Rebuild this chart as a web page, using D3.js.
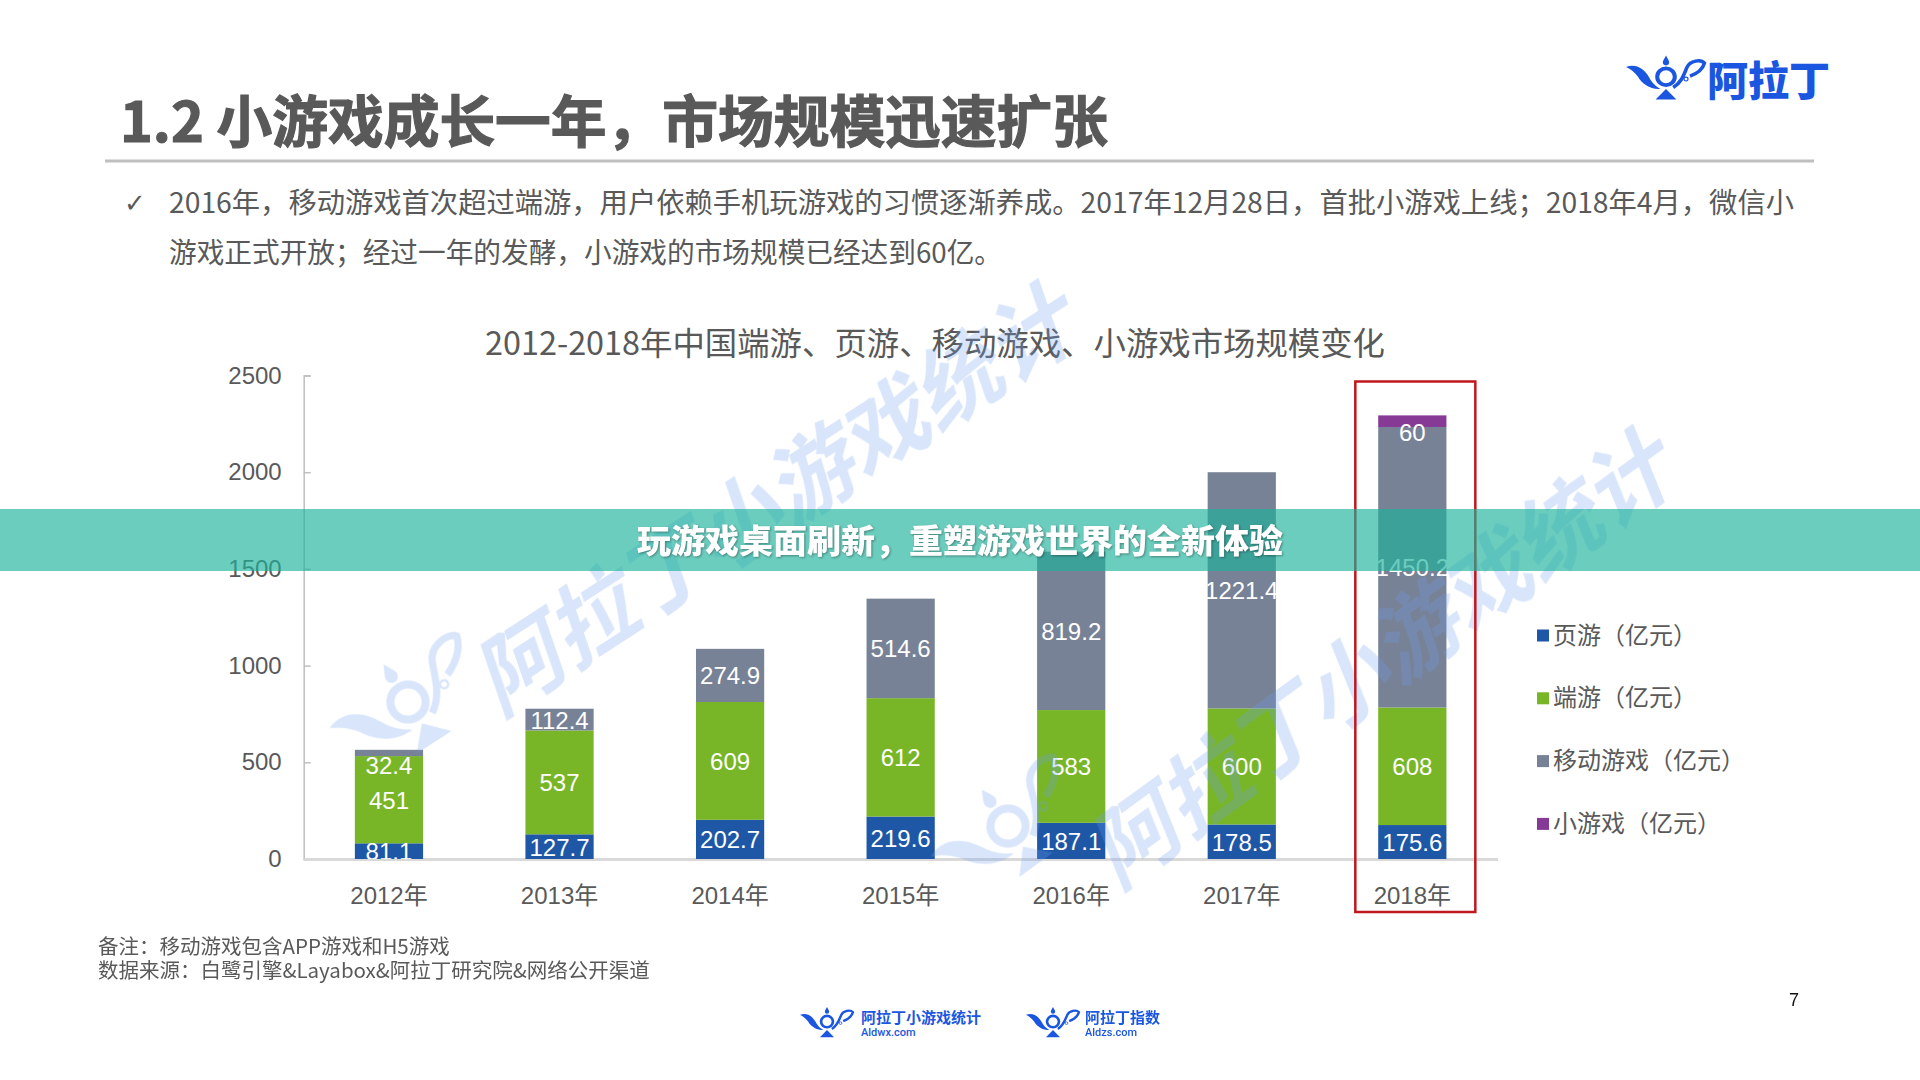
<!DOCTYPE html>
<html>
<head>
<meta charset="utf-8">
<script src="https://cdn.jsdelivr.net/npm/d3@7"></script>
<style>
	html, body { margin: 0; padding: 0; background: #fff; }
	svg { display: block; }
	text { font-family: "Noto Sans CJK SC", "Noto Sans", sans-serif; }
	.num { font-family: "Liberation Sans", "Noto Sans CJK SC", sans-serif; }
</style>
</head>
<body>
<svg id="chart" width="1920" height="1080"></svg>
<script>
// Data

var years = ["2012年", "2013年", "2014年", "2015年", "2016年", "2017年", "2018年"];
var pageGames = [81.1, 127.7, 202.7, 219.6, 187.1, 178.5, 175.6];
var clientGames = [451, 537, 609, 612, 583, 600, 608];
var mobileGames = [32.4, 112.4, 274.9, 514.6, 819.2, 1221.4, 1450.2];
var miniGames = [0, 0, 0, 0, 0, 0, 60];
var yTicks = [0, 500, 1000, 1500, 2000, 2500];
var seriesNames = ["页游（亿元）", "端游（亿元）", "移动游戏（亿元）", "小游戏（亿元）"];
var seriesColors = ["#1f57a7", "#78b628", "#788296", "#863a96"];

var pageTitle = "1.2 小游戏成长一年，市场规模迅速扩张";
var bulletLines = [
	"2016年，移动游戏首次超过端游，用户依赖手机玩游戏的习惯逐渐养成。2017年12月28日，首批小游戏上线；2018年4月，微信小",
	"游戏正式开放；经过一年的发酵，小游戏的市场规模已经达到60亿。"
];
var chartTitle = "2012-2018年中国端游、页游、移动游戏、小游戏市场规模变化";
var footNotes = ["备注：移动游戏包含APP游戏和H5游戏", "数据来源：白鹭引擎&Layabox&阿拉丁研究院&网络公开渠道"];
var bannerText = "玩游戏桌面刷新，重塑游戏世界的全新体验";
var watermarkText = "阿拉丁小游戏统计";

var svg = d3.select("#chart");
var textColor = "#595959";
var logoBlue = "#1a56e0";

// Scales

var plotLeft = 303.7, plotRight = 1497.6, plotTop = 375.5, plotBottom = 859;

var x = d3.scaleBand().domain(years).range([plotLeft, plotRight]).paddingInner(0.6).paddingOuter(0.3);
var y = d3.scaleLinear().domain([0, 2500]).range([plotBottom, plotTop]);

var rows = years.map(function(year, i) {
	return { year: year, s0: pageGames[i], s1: clientGames[i], s2: mobileGames[i], s3: miniGames[i] };
});
var stacked = d3.stack().keys(["s0", "s1", "s2", "s3"])(rows);

// Lamp logo, drawn in a 100 x 60 box

function drawLamp(g, color) {
	g.append("path").attr("fill", color)
		.attr("d", "M0,17 C12,12 23,19 29,31 C33,39 38,43 43,46 C30,47 20,39 15,30 C11,24 6,20 0,17 Z");
	g.append("circle").attr("cx", 50).attr("cy", 30).attr("r", 11)
		.attr("fill", "none").attr("stroke", color).attr("stroke-width", 5);
	g.append("path").attr("fill", color)
		.attr("d", "M50,2 C52,6 54,9 54,11 A4,4 0 0 1 46,11 C46,9 48,6 50,2 Z");
	g.append("path").attr("fill", color).attr("d", "M37,60 L50,46 L63,60 Z");
	g.append("path").attr("fill", "none").attr("stroke", color).attr("stroke-width", 4.5)
		.attr("d", "M59,44 C69,38 72,28 76,18 C80,8 94,7 98,12 C96,20 88,26 80,29");
	g.append("circle").attr("cx", 75).attr("cy", 33).attr("r", 2.5)
		.attr("fill", "none").attr("stroke", color).attr("stroke-width", 1.5);
}

// Header

svg.append("text").attr("x", 120).attr("y", 142)
	.attr("font-size", 56).attr("font-weight", 700).attr("fill", textColor)
	.attr("stroke", textColor).attr("stroke-width", 1.2)
	.attr("textLength", 988).attr("lengthAdjust", "spacingAndGlyphs")
	.text(pageTitle);

svg.append("rect").attr("x", 105).attr("y", 159.5).attr("width", 1709).attr("height", 3).attr("fill", "#bfbfbf");

svg.append("text").attr("x", 124).attr("y", 212)
	.attr("font-size", 26).attr("fill", textColor)
	.style("font-family", "'DejaVu Sans'")
	.text("✓");

svg.selectAll(".bullet").data(bulletLines).enter().append("text")
	.attr("class", "bullet")
	.attr("x", 169)
	.attr("y", function(d, i) { return i === 0 ? 213 : 263; })
	.attr("font-size", 28).attr("fill", textColor)
	.attr("textLength", function(d, i) { return i === 0 ? 1625 : 833; })
	.attr("lengthAdjust", "spacingAndGlyphs")
	.text(function(d) { return d; });

// Top right logo

var topLogo = svg.append("g").attr("transform", "translate(1626,54) scale(0.8,0.76)");
drawLamp(topLogo, logoBlue);
svg.append("text").attr("x", 1707).attr("y", 96)
	.attr("font-size", 41).attr("font-weight", 900).attr("fill", logoBlue)
	.text("阿拉丁");

// Chart title

svg.append("text").attr("x", 935).attr("y", 355)
	.attr("text-anchor", "middle").attr("font-size", 32).attr("fill", textColor)
	.attr("textLength", 900).attr("lengthAdjust", "spacingAndGlyphs")
	.text(chartTitle);

// Axes

var yAxis = svg.append("g").attr("transform", "translate(" + plotLeft + ",0)")
	.call(d3.axisLeft(y).tickValues(yTicks).tickSize(-7).tickPadding(22).tickFormat(d3.format("d")));
yAxis.selectAll("path, line").attr("stroke", "#bfbfbf").attr("stroke-width", 1.5);
yAxis.selectAll("text").attr("class", "num").attr("font-size", 24).attr("fill", textColor);

var xAxis = svg.append("g").attr("transform", "translate(0," + plotBottom + ")")
	.call(d3.axisBottom(x).tickSize(0).tickPadding(28));
xAxis.select("path").attr("stroke", "#d9d9d9").attr("stroke-width", 3);
xAxis.selectAll("text").attr("class", "num").attr("font-size", 24).attr("fill", textColor);

// Bars

var layers = svg.selectAll(".layer").data(stacked).enter().append("g")
	.attr("class", "layer")
	.attr("fill", function(d, i) { return seriesColors[i]; });

layers.selectAll("rect")
	.data(function(d) { return d; })
	.enter().append("rect")
	.attr("x", function(d) { return x(d.data.year); })
	.attr("y", function(d) { return y(d[1]); })
	.attr("width", x.bandwidth())
	.attr("height", function(d) { return y(d[0]) - y(d[1]); });

// Value labels. The thin top segments have their label pushed down, as in the slide

svg.append("clipPath").attr("id", "plotClip").append("rect")
	.attr("x", plotLeft).attr("y", plotTop).attr("width", plotRight - plotLeft).attr("height", plotBottom - plotTop);

function labelShift(value) {
	if (value === 32.4) return 12;
	if (value === 60) return 11;
	return 0;
}

var labelGroup = svg.append("g").attr("clip-path", "url(#plotClip)");

stacked.forEach(function(layer) {
	labelGroup.selectAll(".lab-" + layer.key)
		.data(layer.filter(function(d) { return d[1] > d[0]; }))
		.enter().append("text")
		.attr("class", "num")
		.attr("x", function(d) { return x(d.data.year) + x.bandwidth() / 2; })
		.attr("y", function(d) { return y((d[0] + d[1]) / 2) + 9 + labelShift(d.data[layer.key]); })
		.attr("text-anchor", "middle").attr("font-size", 24).attr("fill", "#fff")
		.text(function(d) { return d.data[layer.key]; });
});

// Legend

var legend = svg.selectAll(".legend").data(seriesNames).enter().append("g")
	.attr("class", "legend")
	.attr("transform", function(d, i) { return "translate(1537," + (635.5 + i * 62.8) + ")"; });

legend.append("rect").attr("x", 0).attr("y", -6).attr("width", 12).attr("height", 12)
	.attr("fill", function(d, i) { return seriesColors[i]; });

legend.append("text").attr("x", 16).attr("y", 8)
	.attr("font-size", 24).attr("fill", textColor)
	.text(function(d) { return d; });

// Watermarks sit over the bars

function watermark(cx, cy, angle, lampX, lampY) {
	var wm = svg.append("g").attr("opacity", 0.27);
	wm.append("text")
		.attr("transform", "translate(" + cx + "," + cy + ") rotate(" + angle + ") skewX(-14)")
		.attr("text-anchor", "middle").attr("dominant-baseline", "central")
		.attr("font-size", 87).attr("font-weight", 700).attr("fill", "#6f9ff0")
		.text(watermarkText);
	var lamp = wm.append("g")
		.attr("transform", "translate(" + lampX + "," + lampY + ") rotate(" + angle + ") scale(1.6) translate(-50,-30)");
	drawLamp(lamp, "#6f9ff0");
}

watermark(778, 490, -33, 408, 702);
watermark(1384, 649, -36, 1008, 826);

// Highlight box around 2018

svg.append("rect")
	.attr("x", x("2018年") + x.bandwidth() / 2 - 57)
	.attr("y", 381.5)
	.attr("width", 120)
	.attr("height", y(0) - 381.5 + 53)
	.attr("fill", "none").attr("stroke", "#c0171c").attr("stroke-width", 2.5);

// Footer

svg.selectAll(".note").data(footNotes).enter().append("text")
	.attr("class", "note")
	.attr("x", 98)
	.attr("y", function(d, i) { return 954 + i * 24; })
	.attr("font-size", 20.5).attr("fill", textColor)
	.text(function(d) { return d; });

function footerLogo(lampX, textX, name, site) {
	var lamp = svg.append("g").attr("transform", "translate(" + lampX + ",1006) scale(0.54,0.52)");
	drawLamp(lamp, logoBlue);
	svg.append("text").attr("x", textX).attr("y", 1023)
		.attr("font-size", 15).attr("font-weight", 700).attr("fill", logoBlue)
		.text(name);
	svg.append("text").attr("x", textX).attr("y", 1036)
		.attr("font-size", 11).attr("font-weight", 500).attr("fill", logoBlue)
		.style("font-family", "'Roboto'")
		.text(site);
}

footerLogo(800, 861, "阿拉丁小游戏统计", "Aldwx.com");
footerLogo(1026, 1085, "阿拉丁指数", "Aldzs.com");

svg.append("text").attr("class", "num").attr("x", 1794).attr("y", 1006)
	.attr("text-anchor", "middle").attr("font-size", 18).attr("fill", "#111")
	.text("7");

// Banner across the slide

svg.append("rect").attr("x", 0).attr("y", 509).attr("width", 1920).attr("height", 62)
	.attr("fill", "#1bb29b").attr("fill-opacity", 0.65);

svg.append("text").attr("x", 960).attr("y", 553)
	.attr("text-anchor", "middle").attr("font-size", 33).attr("font-weight", 900).attr("fill", "#fff")
	.attr("textLength", 646).attr("lengthAdjust", "spacingAndGlyphs")
	.style("filter", "drop-shadow(1px 1px 1px rgba(0,0,0,0.35))")
	.text(bannerText);
</script>
</body>
</html>
